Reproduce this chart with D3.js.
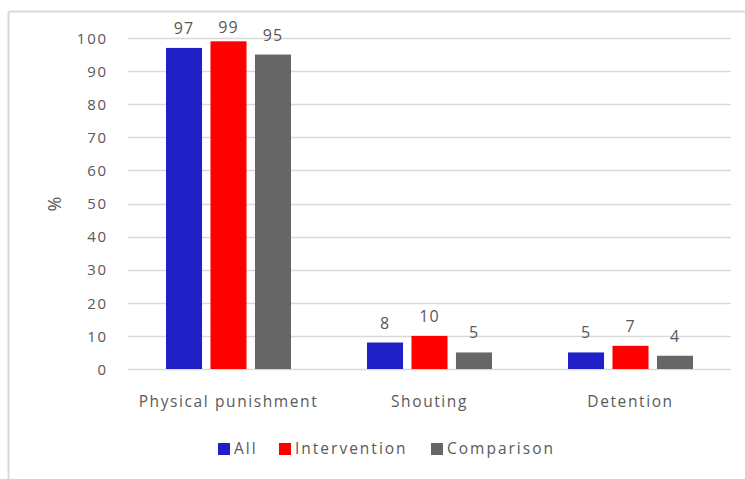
<!DOCTYPE html>
<html>
<head>
<meta charset="utf-8">
<script src="https://cdn.jsdelivr.net/npm/d3@7"></script>
<style>
  html, body { margin: 0; padding: 0; background: #fff; }
  svg text { font-family: "Open Sans", "Noto Sans", sans-serif; fill: #595959; }
</style>
</head>
<body>
<svg id="chart" width="745" height="479"></svg>
<script>
// Data
const categories = ["Physical punishment", "Shouting", "Detention"];
const seriesNames = ["All", "Intervention", "Comparison"];
const seriesColors = ["#2020c6", "#ff0000", "#666666"];
const allValues = [97, 8, 5];
const interventionValues = [99, 10, 7];
const comparisonValues = [95, 5, 4];
const yTicks = [0, 10, 20, 30, 40, 50, 60, 70, 80, 90, 100];

const seriesValues = [allValues, interventionValues, comparisonValues];

const svg = d3.select("#chart");
const W = 745, H = 479;
const plot = { left: 128, right: 731, top: 38, bottom: 369 };

// Chart frame (top and left edges)
svg.append("line").attr("x1", 8.5).attr("x2", W).attr("y1", 11.5).attr("y2", 11.5)
  .attr("stroke", "#d9d9d9").attr("stroke-width", 2);
svg.append("line").attr("x1", 8.5).attr("x2", 8.5).attr("y1", 11.5).attr("y2", H)
  .attr("stroke", "#d9d9d9").attr("stroke-width", 2);

const y = d3.scaleLinear().domain([0, 100]).range([plot.bottom, plot.top]);
const x0 = d3.scaleBand().domain(categories).range([plot.left, plot.right]).padding(0);
const groupWidth = 125;
const x1 = d3.scaleBand().domain(seriesNames).range([0, groupWidth]).paddingInner(0.19).paddingOuter(0);

// Gridlines
svg.append("g").selectAll("line").data(yTicks).join("line")
  .attr("x1", plot.left).attr("x2", plot.right)
  .attr("y1", d => Math.round(y(d)) + 0.5).attr("y2", d => Math.round(y(d)) + 0.5)
  .attr("stroke", "#d9d9d9").attr("stroke-width", 1.5);

// Y axis labels
const yAxis = d3.axisLeft(y).tickValues(yTicks).tickSize(0).tickPadding(0);
const yg = svg.append("g").attr("transform", `translate(108,0)`).call(yAxis);
yg.select(".domain").remove();
yg.selectAll("text")
  .attr("font-size", 15).attr("letter-spacing", 1.8)
  .style("font-family", '"Open Sans", sans-serif').attr("fill", "#595959")
  .attr("dy", "0.35em");

// Y axis title
svg.append("text").attr("transform", "translate(61,204) rotate(-90)")
  .attr("text-anchor", "middle").attr("font-size", 18).text("%");

// Bars with value labels
const groups = svg.append("g").selectAll("g").data(categories).join("g")
  .attr("transform", c => `translate(${x0(c) + (x0.bandwidth() - groupWidth) / 2},0)`);

groups.each(function (c, ci) {
  const g = d3.select(this);
  seriesNames.forEach((s, si) => {
    const v = seriesValues[si][ci];
    g.append("rect")
      .attr("x", x1(s)).attr("width", x1.bandwidth())
      .attr("y", y(v)).attr("height", y(0) - y(v))
      .attr("fill", seriesColors[si]);
    g.append("text")
      .attr("x", x1(s) + x1.bandwidth() / 2).attr("y", Math.max(y(v) - 14, 33))
      .attr("text-anchor", "middle").attr("font-size", 16).attr("letter-spacing", 1)
      .text(v);
  });
});

// Category labels
const xAxis = d3.axisBottom(x0).tickSize(0).tickPadding(0);
const xg = svg.append("g").attr("transform", `translate(0,${plot.bottom})`).call(xAxis);
xg.select(".domain").remove();
xg.selectAll("text")
  .attr("font-size", 15.5).attr("letter-spacing", 1.6)
  .style("font-family", '"Open Sans", sans-serif').attr("fill", "#595959")
  .attr("dy", 0).attr("y", 38);

// Legend
const legendX = [218, 279, 431];
const legend = svg.append("g").selectAll("g").data(seriesNames).join("g")
  .attr("transform", (d, i) => `translate(${legendX[i]},443)`);
legend.append("rect").attr("width", 12).attr("height", 12)
  .attr("fill", (d, i) => seriesColors[i]);
legend.append("text").attr("x", 16).attr("y", 11)
  .attr("font-size", 15.5).attr("letter-spacing", 2).text(d => d);
</script>
</body>
</html>
